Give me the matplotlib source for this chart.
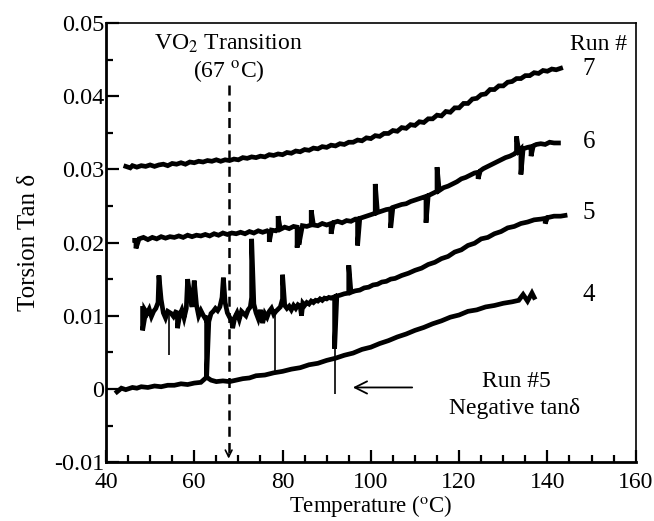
import matplotlib
matplotlib.use("Agg")
import matplotlib.pyplot as plt

plt.rcParams['font.family'] = ['Liberation Serif', 'DejaVu Serif']
plt.rcParams['mathtext.fontset'] = 'stix'

# Run 7 (temperature in degC, torsion tan delta)
run7_t = [44.5, 45.5, 46, 47, 48, 49, 50, 51, 52, 53, 54, 55, 56, 57, 58, 59, 60, 61, 62, 63, 64,
          65, 66, 67, 68, 69, 70, 71, 72, 73, 74, 75, 76, 77, 78, 79, 80, 81, 82, 83, 84,
          85, 86, 87, 88, 89, 90, 91, 92, 93, 94, 95, 96, 97, 98, 99, 100, 101, 102, 103, 104,
          105, 106, 107, 108, 109, 110, 111, 112, 113, 114, 115, 116, 117, 118, 119, 120,
          121, 122, 123, 124, 125, 126, 127, 128, 129, 130, 131, 132, 133, 134, 135, 136,
          137, 138, 139, 140, 141, 142, 143]
run7_v = [0.0304, 0.0302, 0.0305, 0.0303, 0.0305, 0.0304, 0.0306, 0.0304, 0.0306, 0.0307, 0.0305,
          0.0308, 0.0307, 0.0309, 0.0307, 0.0310, 0.0309, 0.0311, 0.0310, 0.0312, 0.0311,
          0.0313, 0.0311, 0.0313, 0.0312, 0.0314, 0.0313, 0.0316, 0.0315, 0.0317, 0.0316,
          0.0318, 0.0317, 0.0320, 0.0319, 0.0321, 0.0320, 0.0323, 0.0322, 0.0325, 0.0324,
          0.0327, 0.0326, 0.0329, 0.0328, 0.0331, 0.0330, 0.0333, 0.0332, 0.0335, 0.0334,
          0.0337, 0.0337, 0.0340, 0.0339, 0.0343, 0.0342, 0.0346, 0.0345, 0.0349, 0.0349,
          0.0353, 0.0352, 0.0357, 0.0356, 0.0361, 0.0360, 0.0365, 0.0364, 0.0369, 0.0369,
          0.0374, 0.0373, 0.0379, 0.0378, 0.0384, 0.0384, 0.0390, 0.0390, 0.0396, 0.0397,
          0.0402, 0.0403, 0.0409, 0.0409, 0.0414, 0.0414, 0.0419, 0.0420, 0.0424, 0.0424,
          0.0428, 0.0428, 0.0432, 0.0431, 0.0435, 0.0434, 0.0437, 0.0436, 0.0438]

# Run 6
run6_t = [46.5, 46.8, 46.8, 47.5, 48.5, 49.5, 50.5, 51.5, 52.5, 53.5, 54.5, 55.5, 56.5, 57.5,
          58.5, 59.5, 60.5, 61.5, 62.5, 63.5, 64.5, 65.5, 66.5, 67.5, 68.5, 69.5, 70.5, 71.5,
          72.5, 73.5, 74.5, 75.5, 76.5, 77, 77, 77.5, 78.5, 79, 79, 79.5, 80.5, 81.5, 82.5,
          83.3, 83.3, 83.7, 83.7, 84.5, 85.5, 86.5, 86.5, 87, 88, 89, 90, 91, 91, 91.5, 92.5,
          93.5, 94.5, 95.5, 96.5, 97, 97, 97.5, 98.5, 99.5, 100.5, 101, 101, 101.5, 102.5,
          103.5, 104.5, 104.5, 105, 106, 107, 108, 109, 110, 111, 112, 112.5, 112.5, 113,
          114, 115, 115, 115.5, 116.5, 117.5, 118.5, 119.5, 120.5, 121.5, 122.5, 123.5,
          124.3, 124.3, 124.8, 125.5, 126.5, 127.5, 128.5, 129.5, 130.5, 131.5, 132.5, 133,
          133, 133.5, 134, 134, 134.5, 135.5, 136.3, 136.3, 136.8, 137.5, 138.5, 139.5,
          140.5, 141.5, 142.5]
run6_v = [0.0203, 0.0203, 0.0192, 0.0205, 0.0207, 0.0204, 0.0207, 0.0205, 0.0208, 0.0206,
          0.0208, 0.0207, 0.0209, 0.0207, 0.0210, 0.0208, 0.0210, 0.0209, 0.0211, 0.0209,
          0.0212, 0.0210, 0.0213, 0.0211, 0.0213, 0.0212, 0.0214, 0.0212, 0.0215, 0.0213,
          0.0216, 0.0214, 0.0216, 0.0214, 0.0201, 0.0217, 0.0216, 0.0218, 0.0236, 0.0218,
          0.0221, 0.0219, 0.0222, 0.0221, 0.0193, 0.0221, 0.0197, 0.0223, 0.0222, 0.0224,
          0.0244, 0.0224, 0.0223, 0.0226, 0.0224, 0.0226, 0.0212, 0.0227, 0.0229, 0.0227,
          0.0230, 0.0229, 0.0232, 0.0232, 0.0196, 0.0233, 0.0235, 0.0237, 0.0239, 0.0240,
          0.0280, 0.0241, 0.0243, 0.0245, 0.0246, 0.0220, 0.0248, 0.0250, 0.0252, 0.0253,
          0.0256, 0.0258, 0.0260, 0.0262, 0.0263, 0.0227, 0.0264, 0.0267, 0.0270, 0.0303,
          0.0271, 0.0275, 0.0277, 0.0280, 0.0283, 0.0287, 0.0289, 0.0292, 0.0295, 0.0296,
          0.0287, 0.0298, 0.0301, 0.0304, 0.0307, 0.0310, 0.0313, 0.0316, 0.0318, 0.0321,
          0.0324, 0.0345, 0.0325, 0.0328, 0.0293, 0.0328, 0.0330, 0.0331, 0.0318, 0.0332,
          0.0334, 0.0335, 0.0334, 0.0337, 0.0336, 0.0336]

# Run 5
run5_t = [48.3, 48.3, 48.8, 48.8, 49.3, 49.8, 50.3, 50.8, 51.3, 51.8, 52, 52.5, 53, 53.5, 54,
          54.8, 55.3, 55.8, 56.2, 56.2, 56.7, 57.2, 57.7, 58.2, 58.5, 59, 59.5, 60, 60.5, 61,
          61.5, 62, 62.5, 62.8, 62.8, 63.3, 63.8, 64.3, 64.8, 65.3, 65.8, 66.3, 66.6, 67,
          67.5, 68, 68.5, 68.7, 69.2, 69.7, 70.2, 70.7, 71.2, 71.7, 72.2, 72.7, 73, 73, 73.5,
          74, 74.5, 75, 75.5, 76, 76.5, 77, 77.5, 78, 78.5, 79, 79.5, 80, 80, 80.5, 81, 81.5,
          82, 82.5, 83, 83.5, 84, 84.3, 84.6, 85, 85.5, 86, 86.5, 87, 87.5, 88, 88.5, 89,
          89.5, 90, 90.5, 91, 91.8, 91.8, 92.3, 93, 94, 95, 95, 95.5, 96.5, 97.5, 98.5,
          99.5, 100.5, 101.5, 102.5, 103.5, 104.5, 105.5, 107, 108.5, 110, 111.5, 113,
          114.5, 116, 117.5, 119, 120.5, 122, 123.5, 125, 126.5, 128, 129.5, 131, 132.5,
          134, 135.5, 137, 138.5, 139.5, 139.5, 140, 141.5, 143, 144]
run5_v = [0.0110, 0.0080, 0.0098, 0.0108, 0.0103, 0.0109, 0.0099, 0.0106, 0.0110, 0.0118,
          0.0155, 0.0122, 0.0104, 0.0097, 0.0106, 0.0103, 0.0099, 0.0105, 0.0104, 0.0083,
          0.0101, 0.0108, 0.0097, 0.0110, 0.0150, 0.0128, 0.0112, 0.0148, 0.0115, 0.0100,
          0.0107, 0.0101, 0.0096, 0.0100, 0.0015, 0.0092, 0.0103, 0.0106, 0.0110, 0.0107,
          0.0112, 0.0125, 0.0152, 0.0118, 0.0104, 0.0098, 0.0093, 0.0083, 0.0098, 0.0104,
          0.0095, 0.0106, 0.0103, 0.0100, 0.0108, 0.0112, 0.0125, 0.0205, 0.0116, 0.0104,
          0.0096, 0.0108, 0.0090, 0.0103, 0.0098, 0.0106, 0.0110, 0.0102, 0.0106, 0.0109,
          0.0112, 0.0123, 0.0156, 0.0114, 0.0110, 0.0113, 0.0108, 0.0114, 0.0110, 0.0115,
          0.0113, 0.0100, 0.0117, 0.0114, 0.0118, 0.0116, 0.0120, 0.0118, 0.0121, 0.0120,
          0.0123, 0.0121, 0.0124, 0.0123, 0.0125, 0.0124, 0.0126, 0.0055, 0.0127, 0.0128,
          0.0130, 0.0131, 0.0169, 0.0132, 0.0134, 0.0135, 0.0138, 0.0139, 0.0142, 0.0143,
          0.0146, 0.0147, 0.0150, 0.0151, 0.0155, 0.0158, 0.0162, 0.0165, 0.0170, 0.0173,
          0.0178, 0.0181, 0.0187, 0.0190, 0.0196, 0.0199, 0.0205, 0.0207, 0.0212, 0.0215,
          0.0220, 0.0222, 0.0226, 0.0228, 0.0231, 0.0232, 0.0233, 0.0226, 0.0234, 0.0236,
          0.0236, 0.0237]

# Run 4
run4_t = [42.5, 43.5, 44.5, 46, 47, 48, 49.5, 51, 52.5, 54, 55.5, 57, 58.5, 60, 61.5, 62.8, 63.8,
          65, 66.5, 68, 69.5, 71, 72.5, 74, 76, 78, 80, 82, 84, 86, 88, 90, 92, 94, 96, 98,
          100, 102, 104, 106, 108, 110, 112, 114, 116, 118, 120, 122, 124, 126, 128, 130,
          132, 133.5, 134.5, 135.5, 136.5, 137]
run4_v = [-0.0004, 0.0001, -0.0001, 0.0002, 0.0001, 0.0003, 0.0002, 0.0004, 0.0003, 0.0005,
          0.0005, 0.0007, 0.0006, 0.0008, 0.0009, 0.0016, 0.0012, 0.0010, 0.0011, 0.0010,
          0.0012, 0.0014, 0.0015, 0.0018, 0.0019, 0.0022, 0.0024, 0.0027, 0.0029, 0.0033,
          0.0035, 0.0039, 0.0042, 0.0046, 0.0049, 0.0054, 0.0057, 0.0062, 0.0066, 0.0071,
          0.0075, 0.0080, 0.0084, 0.0089, 0.0093, 0.0098, 0.0101, 0.0106, 0.0108, 0.0112,
          0.0114, 0.0117, 0.0119, 0.0121, 0.0129, 0.0120, 0.0131, 0.0125]

# thin drop-outs of run 5
drop_t = [54.3, 78.4, 91.8]
drop_top = [0.0103, 0.0106, 0.0055]
drop_bottom = [0.0047, 0.0025, -0.0007]

run_labels = ['7', '6', '5', '4']
run_label_y = [0.0437, 0.0338, 0.0240, 0.0128]

fig = plt.figure(figsize=(6.54, 5.21), dpi=100)
ax = fig.add_axes([0.162, 0.113, 0.81, 0.843])

for t, v in [(run7_t, run7_v), (run6_t, run6_v), (run5_t, run5_v), (run4_t, run4_v)]:
    ax.plot(t, v, color='black', lw=3.4, solid_joinstyle='miter')
ax.vlines(drop_t, drop_bottom, drop_top, color='black', lw=1.2)

# VO2 transition marker
ax.plot([67.8, 67.8], [0.0415, -0.0092], color='black', lw=1.8, ls=(0, (4, 2.5)))
ax.annotate('', xy=(67.8, -0.0099), xytext=(67.8, -0.0085),
            arrowprops=dict(arrowstyle='->', lw=1.2, color='black', mutation_scale=12))
ax.text(67.8, 0.0471, r'VO$_2$ Transition', ha='center', va='center', fontsize=17)
ax.text(67.8, 0.0434, r'(67 $^{\rm o}$C)', ha='center', va='center', fontsize=17)

ax.text(158, 0.0471, 'Run #', ha='right', va='center', fontsize=17)
for lab, y in zip(run_labels, run_label_y):
    ax.text(148, y, lab, ha='left', va='center', fontsize=18)

ax.annotate('', xy=(95.3, 0.0002), xytext=(110, 0.0002),
            arrowprops=dict(arrowstyle='->', lw=1.3, color='black', mutation_scale=22))
ax.text(133, 0.0010, 'Run #5', ha='center', va='center', fontsize=17)
ax.text(132.5, -0.0027, 'Negative tan\u03b4', ha='center', va='center', fontsize=17)

ax.set_xlim(40, 160)
ax.set_ylim(-0.01, 0.05)
ax.set_xticks([40, 60, 80, 100, 120, 140, 160])
ax.set_xticks(range(45, 160, 5), minor=True)
ax.set_yticks([-0.01, 0, 0.01, 0.02, 0.03, 0.04, 0.05])
ax.set_yticklabels(['-0.01', '0', '0.01', '0.02', '0.03', '0.04', '0.05'])
ax.set_yticks([-0.005, 0.005, 0.015, 0.025, 0.035, 0.045], minor=True)
ax.tick_params(which='both', direction='in', width=1.6)
ax.tick_params(which='major', length=9)
ax.tick_params(which='minor', length=5)
ax.tick_params(axis='x', pad=7, labelsize=17)
ax.tick_params(axis='y', pad=1, labelsize=17.5)
for side in ['left', 'bottom']:
    ax.spines[side].set_linewidth(2)
for side in ['top', 'right']:
    ax.spines[side].set_linewidth(1.2)

ax.set_xlabel(r'Temperature ($^{\rm o}$C)', fontsize=16.5, labelpad=0)
ax.set_ylabel('Torsion Tan \u03b4', fontsize=18, labelpad=10)

fig.savefig('out.png', dpi=100)
